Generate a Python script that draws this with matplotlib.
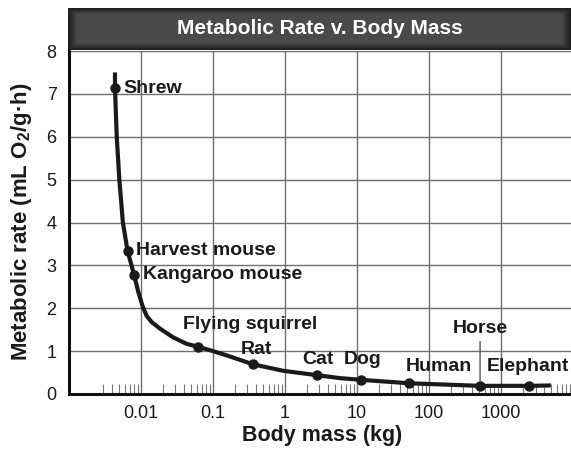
"""Metabolic rate against body mass, log mass axis."""

import numpy as np
import matplotlib
matplotlib.use("Agg")
import matplotlib.pyplot as plt
from matplotlib.ticker import FixedLocator, NullFormatter

plt.rcParams["font.family"] = ["Liberation Sans", "DejaVu Sans"]
plt.rcParams["mathtext.fontset"] = "custom"
plt.rcParams["mathtext.rm"] = "Liberation Sans"
plt.rcParams["mathtext.bf"] = "Liberation Sans:bold"

# Trend curve through the animals (mass in kg, rate in mL O2/g·h)
curve_mass = [0.00435, 0.00435, 0.0046, 0.0050, 0.0056, 0.0065, 0.0080, 0.0091,
              0.0105, 0.0120, 0.0140, 0.0185, 0.028, 0.043, 0.0625, 0.10, 0.155,
              0.363, 0.95, 2.75, 5.8, 11.4, 53, 510, 2470, 4900]
curve_rate = [7.50, 7.13, 6.0, 5.0, 4.0, 3.34, 2.78, 2.40,
              2.05, 1.82, 1.68, 1.52, 1.32, 1.17, 1.10, 1.00, 0.90,
              0.69, 0.54, 0.44, 0.37, 0.33, 0.25, 0.19, 0.19, 0.20]

animals     = ["Shrew", "Harvest mouse", "Kangaroo mouse", "Flying squirrel", "Rat",
               "Cat", "Dog", "Human", "Horse", "Elephant"]
animal_mass = [0.00435, 0.0065, 0.0080, 0.0625, 0.363, 2.75, 11.4, 53, 510, 2470]
animal_rate = [7.13, 3.34, 2.78, 1.10, 0.69, 0.44, 0.33, 0.25, 0.19, 0.19]

x_ticks  = [0.01, 0.1, 1, 10, 100, 1000]
x_labels = ["0.01", "0.1", "1", "10", "100", "1000"]
y_ticks  = [0, 1, 2, 3, 4, 5, 6, 7, 8]

# label placement: offset in pixels from the dot, horizontal alignment
label_pos = {
    "Shrew":           (8, 0, "left"),
    "Harvest mouse":   (8, 0, "left"),
    "Kangaroo mouse":  (9, 0, "left"),
    "Flying squirrel": (52, 22, "center"),
    "Rat":             (3, 15, "center"),
    "Cat":             (1, 16, "center"),
    "Dog":             (1, 20, "center"),
    "Human":           (30, 17, "center"),
    "Horse":           (0, 57, "center"),
    "Elephant":        (-1, 19, "center"),
}

W, H, DPI = 571, 453, 100
fig = plt.figure(figsize=(W / DPI, H / DPI), dpi=DPI)

ax_l, ax_b, ax_t = 69 / W, 1 - 394 / H, 1 - 51 / H
ax = fig.add_axes([ax_l, ax_b, 1 - ax_l, ax_t - ax_b])

ax.set_xscale("log")
ax.set_xlim(1e-3, 10 ** 3.97)
ax.set_ylim(0, 8)

ax.plot(curve_mass, curve_rate, color="#1a1a1a", lw=3.0, solid_capstyle="butt",
        solid_joinstyle="round", zorder=3)
ax.plot(animal_mass, animal_rate, "o", color="#1a1a1a", ms=6.5, zorder=4)

for name, m, r in zip(animals, animal_mass, animal_rate):
    dx, dy, ha = label_pos[name]
    kw = {}
    if name == "Horse":
        kw["arrowprops"] = dict(arrowstyle="-", color="#555555", lw=1.0,
                                shrinkA=1, shrinkB=3)
    ax.annotate(name, xy=(m, r), xytext=(dx, dy), textcoords="offset pixels",
                ha=ha, va="center", fontsize=14, fontweight="bold",
                color="#1a1a1a", zorder=5, **kw)

# grid and ticks
ax.set_xticks(x_ticks)
ax.set_xticklabels(x_labels)
minor = [s * 10.0 ** e for e in range(-3, 4) for s in range(2, 10)]
minor = [v for v in minor if v > 0.0025]
ax.xaxis.set_minor_locator(FixedLocator(minor))
ax.xaxis.set_minor_formatter(NullFormatter())
ax.set_yticks(y_ticks)
ax.grid(True, which="major", color="#6e6e6e", lw=1.0)
ax.tick_params(axis="x", which="major", length=0, pad=8, labelsize=13, colors="#1a1a1a")
ax.tick_params(axis="x", which="minor", direction="in", length=7, width=0.8,
               color="#777777")
ax.tick_params(axis="y", length=0, pad=9, labelsize=13, colors="#1a1a1a")

for side in ("top", "right"):
    ax.spines[side].set_visible(False)
for side in ("left", "bottom"):
    ax.spines[side].set_linewidth(2.2)
    ax.spines[side].set_color("#111111")
    ax.spines[side].set_zorder(6)

# axis titles placed in figure pixels
fig.text(322 / W, 1 - 435 / H, "Body mass (kg)", ha="center", va="center",
         fontsize=15.5, fontweight="bold", color="#1a1a1a")
fig.text(22 / W, 1 - 222 / H, r"Metabolic rate (mL O$_\mathbf{2}$/g·h)",
         ha="center", va="center", rotation=90, fontsize=16, fontweight="bold",
         color="#1a1a1a")

# dark header band with shaded edges
hx0, hy0, hy1 = 68 / W, 1 - 50 / H, 1 - 8 / H
hax = fig.add_axes([hx0, hy0, 1 - hx0, hy1 - hy0])
hw, hh = W - 68, 42
xx = np.arange(hw)[None, :]
yy = np.arange(hh)[:, None]
edge = np.minimum(np.minimum(xx, hw - 1 - xx) / 9.0, np.minimum(yy, hh - 1 - yy) / 6.0)
shade = 0.12 + 0.17 * np.clip(edge, 0, 1)
hax.imshow(shade, cmap="gray", vmin=0, vmax=1, aspect="auto", interpolation="bilinear")
hax.set_axis_off()
hax.text(0.5, 0.5, "Metabolic Rate v. Body Mass", transform=hax.transAxes,
         ha="center", va="center", color="white", fontsize=15, fontweight="bold")

fig.savefig("out.png", dpi=DPI)
